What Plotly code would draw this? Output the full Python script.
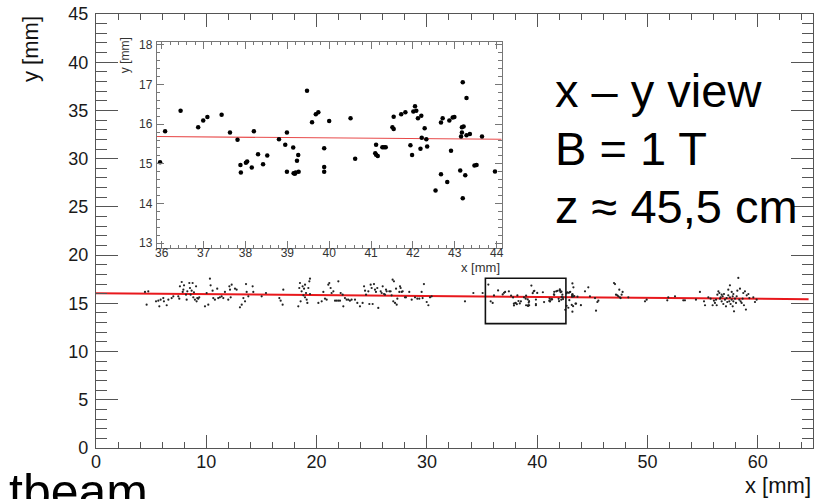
import plotly.graph_objects as go

# ---------------- data ----------------
# main-view hits outside the zoomed window (x, y in mm)
main_x = [4.44, 4.74, 4.59, 5.44, 5.65, 5.74, 5.86, 6.10, 6.16, 6.41, 6.56, 6.86, 7.01, 7.46, 7.55,
          7.61, 7.77, 7.86, 7.92, 7.98, 8.16, 8.22, 8.28, 8.46, 8.52, 8.58, 8.67, 8.76, 8.82, 8.88,
          8.97, 9.07, 9.12, 9.18, 9.27, 9.36, 9.88, 10.03, 10.18, 10.33, 10.39, 10.57, 10.63, 10.78,
          10.99, 11.08, 11.23, 11.39, 11.54, 11.69, 11.99, 12.09, 12.15, 12.21, 12.30, 12.60, 12.75,
          13.05, 13.21, 13.36, 13.51, 13.60, 13.66, 13.81,
          14.20, 14.26, 15.02, 15.41, 16.62, 16.74, 16.92, 16.98, 18.34, 18.43, 18.49, 18.55, 18.64,
          18.73, 18.80, 18.86, 18.95, 18.95, 19.04, 19.10, 19.16, 19.25, 19.34, 19.40, 19.40, 20.16,
          20.46, 20.61, 20.76, 20.91, 21.06, 21.15, 21.27, 21.36, 21.52, 21.67, 21.82, 21.97, 21.97,
          22.12, 22.18, 22.36, 22.42, 22.57, 22.72, 22.87, 23.02, 23.17, 23.48, 23.69, 23.93,
          24.17, 24.30, 24.39, 24.48, 24.69, 24.78, 24.90, 24.99, 25.08, 25.20, 25.29, 25.38, 25.50,
          25.59, 25.81, 25.90, 25.99, 26.11, 26.20, 26.29, 26.35, 26.59, 26.71, 26.80, 26.89, 26.95,
          27.01, 27.11, 27.20, 27.26, 27.32, 27.50, 27.56, 27.62, 27.71, 27.80, 28.01, 28.10, 28.40,
          28.62, 28.92, 29.13, 29.31, 29.52, 29.61, 29.73, 29.98, 30.13, 30.28, 30.43, 33.45,
          34.21, 35.05, 35.57, 35.78,
          44.33, 44.63, 44.78, 45.24, 45.33, 45.45, 45.54, 46.96, 47.05, 47.14, 47.26, 47.35, 47.44,
          47.50, 47.56, 47.65, 47.74, 48.26, 49.77, 49.92, 51.79, 51.88, 52.49, 53.24, 53.39,
          54.39, 54.75, 55.12, 55.21, 55.51, 55.72, 55.90, 56.02, 56.11, 56.21, 56.27, 56.33, 56.42,
          56.51, 56.57, 56.63, 56.72, 56.72, 56.81, 56.87, 56.93, 57.02, 57.11, 57.17, 57.23, 57.32,
          57.32, 57.41, 57.47, 57.47, 57.53, 57.63, 57.63, 57.72, 57.72, 57.78, 57.78, 57.84, 57.93,
          58.02, 58.08, 58.14, 58.23, 58.32, 58.38, 58.44, 58.53, 58.62, 58.68, 58.74, 58.83, 58.92,
          58.99, 59.14, 59.23, 59.59, 59.74, 59.89]
main_y = [16.18, 16.25, 14.86, 15.21, 15.28, 14.69, 15.38, 15.55, 15.21, 14.80, 15.38, 15.55, 15.73, 15.73, 15.48,
          16.76, 17.21, 16.18, 16.42, 16.87, 15.90, 15.38, 16.25, 17.11, 16.59, 15.90, 16.31, 17.11, 15.62, 16.14,
          15.38, 16.76, 15.21, 15.55, 15.48, 15.62, 14.69, 16.07, 14.86, 17.56, 16.87, 16.31, 15.55, 15.38,
          16.52, 15.55, 15.62, 15.73, 15.55, 16.18, 15.38, 16.76, 16.42, 15.62, 16.93, 16.52, 16.42,
          14.59, 14.86, 15.55, 15.21, 17.00, 16.18, 15.73,
          16.76, 16.18, 15.73, 16.07, 15.55, 15.28, 14.86, 16.42, 14.69, 16.59, 17.11, 15.21, 16.25,
          16.76, 15.83, 16.52, 15.62, 16.93, 16.07, 15.38, 15.04, 16.59, 17.28, 17.56, 15.97, 15.04,
          15.21, 16.18, 15.48, 15.38, 16.93, 17.11, 16.59, 16.07, 16.25, 15.28, 15.28, 17.28, 15.28,
          15.28, 16.07, 15.90, 14.69, 15.55, 15.38, 15.38, 15.28, 15.38, 15.38, 15.04, 14.69,
          15.04, 16.76, 16.31, 15.90, 16.25, 14.93, 16.93, 16.59, 14.93, 17.00, 16.42, 16.18, 16.59,
          14.52, 16.25, 16.07, 16.76, 15.97, 15.90, 16.42, 16.25, 16.25, 16.25, 15.83, 17.45, 15.21,
          17.28, 15.04, 16.52, 14.86, 15.48, 16.18, 16.76, 16.59, 16.18, 16.25, 15.62, 15.62, 16.18,
          15.38, 15.62, 15.48, 15.48, 16.18, 15.55, 17.00, 15.14, 14.80, 15.62, 15.73, 15.21,
          16.07, 16.07, 16.94, 15.21,
          16.25, 16.66, 15.73, 15.55, 14.24, 15.14, 15.28, 17.11, 17.00, 15.90, 15.83, 15.73, 16.42,
          15.62, 15.55, 15.90, 16.18, 15.62, 15.21, 15.38, 15.31, 15.62, 15.73, 15.31, 15.31,
          15.38, 16.18, 15.21, 14.80, 15.62, 15.48, 14.80, 15.28, 15.04, 15.38, 14.80, 15.90, 16.25,
          16.07, 15.48, 15.62, 15.90, 15.21, 15.73, 14.93, 15.97, 15.38, 14.69, 15.55, 15.14, 15.83,
          16.42, 15.21, 15.62, 16.87, 14.93, 15.38, 16.18, 14.69, 15.73, 15.97, 15.21, 14.17, 15.48,
          15.04, 15.73, 16.31, 17.63, 15.38, 16.52, 15.21, 15.04, 15.48, 16.07, 14.80, 16.25, 14.35,
          15.83, 15.97, 15.55, 15.62, 15.14, 15.38]

# hits inside the zoomed window (shown in both views)
zoom_x = [35.96, 36.08, 36.45, 36.87, 36.99, 37.09, 37.43, 37.63, 37.81, 37.88, 37.89, 38.01, 38.04,
          38.15, 38.20, 38.30, 38.42, 38.52, 38.80, 38.95, 38.99, 38.99, 39.14, 39.15, 39.18, 39.20,
          39.23, 39.26, 39.27, 39.47, 39.59, 39.68, 39.74, 39.88, 39.88, 39.88, 40.00, 40.51, 40.62,
          41.12, 41.10, 41.12, 41.16, 41.27, 41.31, 41.35, 41.51, 41.54, 41.54, 41.72, 41.82, 41.94,
          41.98, 42.01, 42.05, 42.08, 42.12, 42.18, 42.20, 42.21, 42.28, 42.32, 42.34, 42.54, 42.67,
          42.67, 42.71, 42.82, 42.87, 42.91, 42.95, 42.99, 43.13, 43.15, 43.17, 43.17, 43.19, 43.19,
          43.21, 43.25, 43.28, 43.28, 43.36, 43.47, 43.52, 43.65, 43.96]
zoom_y = [15.04, 15.82, 16.34, 15.92, 16.09, 16.18, 16.24, 15.79, 15.61, 14.97, 14.78, 15.03, 15.06,
          14.91, 15.82, 15.24, 14.99, 15.21, 15.62, 15.48, 15.79, 14.80, 15.41, 14.76, 14.75, 14.78,
          15.08, 15.22, 14.80, 16.84, 16.05, 16.25, 16.30, 15.39, 14.92, 14.80, 16.08, 16.15, 15.13,
          15.48, 15.27, 15.23, 15.20, 15.42, 15.42, 15.42, 15.92, 15.88, 16.19, 16.25, 16.30, 15.47,
          15.22, 16.32, 16.45, 16.34, 16.15, 15.38, 16.21, 15.66, 15.90, 15.62, 15.44, 14.33, 16.04,
          14.74, 16.15, 14.54, 16.09, 15.33, 16.17, 16.18, 14.83, 15.69, 15.92, 15.79, 17.06, 14.13,
          15.94, 14.71, 16.66, 15.72, 15.75, 14.96, 14.97, 15.69, 14.81]

# straight-line track fit (end points)
fit_x = [0.0, 64.6]
fit_y = [16.04, 15.43]
zoom_fit_x = [35.88, 44.12]
zoom_fit_y = [15.69, 15.62]

# zoom window marked in the main view
box_x = [35.3, 42.6]
box_y = [12.9, 17.6]

main_x_range = [0, 65]
main_y_range = [0, 45]
zoom_x_range = [35.88, 44.12]
zoom_y_range = [12.87, 18.08]

info_lines = ["x \u2013 y view", "B = 1 T", "z \u2248 45,5 cm"]

# ---------------- figure ----------------
FONT = "Liberation Sans, Arial, Helvetica, sans-serif"
fig = go.Figure()

fig.add_trace(go.Scatter(x=fit_x, y=fit_y, mode="lines",
                         line=dict(color="#e8181c", width=2), xaxis="x", yaxis="y",
                         showlegend=False, hoverinfo="skip"))
fig.add_trace(go.Scatter(x=main_x + zoom_x, y=main_y + zoom_y, mode="markers",
                         marker=dict(color="#222222", size=2.2), xaxis="x", yaxis="y",
                         showlegend=False))

fig.add_trace(go.Scatter(x=zoom_fit_x, y=zoom_fit_y, mode="lines",
                         line=dict(color="#e84a4a", width=1.2), xaxis="x2", yaxis="y2",
                         showlegend=False, hoverinfo="skip"))
fig.add_trace(go.Scatter(x=zoom_x, y=zoom_y, mode="markers",
                         marker=dict(color="#000000", size=4.5), xaxis="x2", yaxis="y2",
                         showlegend=False))

fig.add_shape(type="rect", xref="x", yref="y", x0=box_x[0], x1=box_x[1], y0=box_y[0], y1=box_y[1],
              line=dict(color="#111111", width=1.6), fillcolor="rgba(0,0,0,0)")

# inset placement (paper fractions)
ix0, ix1 = 0.0847, 0.5658
iy0, iy1 = 0.4601, 0.9362

axis_main = dict(showgrid=False, zeroline=False, showline=True, linecolor="#555555", linewidth=1.2,
                 mirror="allticks", ticks="inside", tickcolor="#555555", automargin=False,
                 tickfont=dict(family=FONT, size=18, color="#1a1a1a"))
axis_inset = dict(showgrid=False, zeroline=False, showline=True, linecolor="#777777", linewidth=1,
                  mirror="allticks", ticks="inside", tickcolor="#777777", ticklen=7, automargin=False,
                  tickfont=dict(family=FONT, size=12, color="#333333"))

fig.update_layout(
    width=824, height=499,
    margin=dict(l=96, r=11, t=14, b=51, autoexpand=False),
    paper_bgcolor="white", plot_bgcolor="white",
    xaxis=dict(axis_main, range=main_x_range, dtick=10, tick0=0, ticklen=13, tickwidth=1.2,
               minor=dict(dtick=2, tick0=0, ticklen=6, ticks="inside", tickcolor="#555555"),
               domain=[0, 1], anchor="y", ticklabelstandoff=-3),
    yaxis=dict(axis_main, range=main_y_range, dtick=5, tick0=0, ticklen=22, tickwidth=1.2,
               minor=dict(dtick=1, tick0=0, ticklen=11, ticks="inside", tickcolor="#555555"),
               domain=[0, 1], anchor="x", ticklabelstandoff=3),
    xaxis2=dict(axis_inset, range=zoom_x_range, dtick=1, tick0=36,
                minor=dict(dtick=0.2, tick0=36, ticklen=3.5, ticks="inside", tickcolor="#777777"),
                domain=[ix0, ix1], anchor="y2", ticklabelstandoff=-7),
    yaxis2=dict(axis_inset, range=zoom_y_range, dtick=1, tick0=13,
                minor=dict(dtick=0.2, tick0=13, ticklen=3.5, ticks="inside", tickcolor="#777777"),
                domain=[iy0, iy1], anchor="x2", ticklabelstandoff=1),
)

ann = []
# main axis titles
ann.append(dict(text="y [mm]", xref="paper", yref="paper", x=(30 - 96) / 717, y=1.0,
                xanchor="center", yanchor="top", textangle=-90, showarrow=False,
                font=dict(family=FONT, size=22, color="#111111")))
ann.append(dict(text="x [mm]", xref="paper", yref="paper", x=1.0, y=(448 - 485) / 434,
                xanchor="right", yanchor="middle", showarrow=False,
                font=dict(family=FONT, size=22, color="#111111")))
# inset axis titles
ann.append(dict(text="y [mm]", xref="paper", yref="paper", x=(125 - 96) / 717, y=iy1 + 0.015,
                xanchor="center", yanchor="top", textangle=-90, showarrow=False,
                font=dict(family=FONT, size=12, color="#333333")))
ann.append(dict(text="x [mm]", xref="paper", yref="paper", x=ix1, y=(448 - 267) / 434,
                xanchor="right", yanchor="middle", showarrow=False,
                font=dict(family=FONT, size=13, color="#333333")))
# info text
for line, py in zip(info_lines, [90.7, 148.7, 206.7]):
    ann.append(dict(text=line, xref="paper", yref="paper", x=(553 - 96) / 717, y=(448 - py) / 434,
                    xanchor="left", yanchor="middle", showarrow=False,
                    font=dict(family=FONT, size=47, color="#000000")))
# cut-off slide title
ann.append(dict(text="tbeam", xref="paper", yref="paper", x=(7 - 96) / 717, y=(448 - 462) / 434,
                xanchor="left", yanchor="top", showarrow=False,
                font=dict(family=FONT, size=50, color="#000000")))
fig.update_layout(annotations=ann)

fig.write_html("out.html", config={"displayModeBar": False},
               post_script="document.body.style.margin='0';document.body.style.overflow='hidden';")
